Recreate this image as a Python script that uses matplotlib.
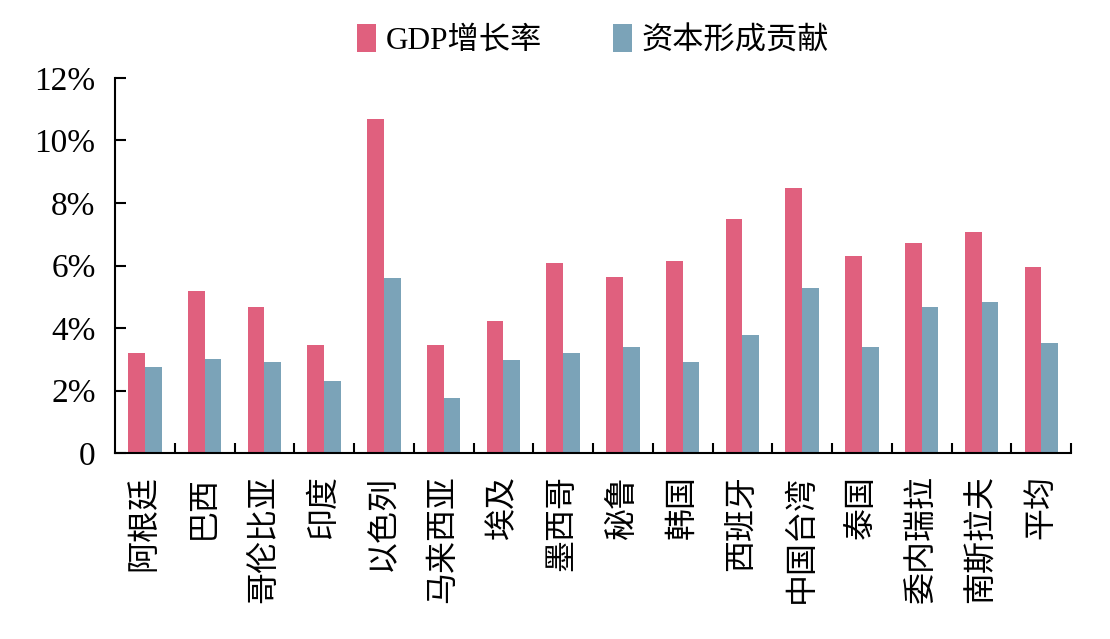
import matplotlib
matplotlib.use('Agg')
import matplotlib.pyplot as plt
import numpy as np
from matplotlib.ticker import FuncFormatter, FixedLocator

plt.rcParams['font.family'] = ['Liberation Serif', 'Noto Sans CJK SC', 'DejaVu Sans']

countries = ['阿根廷', '巴西', '哥伦比亚', '印度', '以色列', '马来西亚', '埃及', '墨西哥',
             '秘鲁', '韩国', '西班牙', '中国台湾', '泰国', '委内瑞拉', '南斯拉夫', '平均']
gdp_growth = [3.2, 5.2, 4.68, 3.45, 10.7, 3.45, 4.22, 6.08,
              5.63, 6.14, 7.49, 8.48, 6.3, 6.72, 7.07, 5.95]
capital_contrib = [2.75, 3.0, 2.9, 2.3, 5.6, 1.77, 2.98, 3.2,
                   3.39, 2.9, 3.78, 5.28, 3.39, 4.67, 4.83, 3.52]

pink = '#E0607E'
blue = '#7BA3B8'

fig = plt.figure(figsize=(11.1, 6.39), dpi=100)
ax = fig.add_axes([0.1036, 0.291, 0.8614, 0.587])

x = np.arange(len(countries))
w = 0.28
ax.bar(x - w / 2, gdp_growth, width=w, color=pink, label='GDP增长率')
ax.bar(x + w / 2, capital_contrib, width=w, color=blue, label='资本形成贡献')

ax.set_xlim(-0.5, len(countries) - 0.5)
ax.set_ylim(0, 12)

ax.spines['top'].set_visible(False)
ax.spines['right'].set_visible(False)
ax.spines['left'].set_linewidth(1.5)
ax.spines['bottom'].set_linewidth(1.5)

ax.set_yticks(range(0, 13, 2))
ax.yaxis.set_major_formatter(FuncFormatter(lambda v, p: '0' if v == 0 else '%d%%' % v))
ax.tick_params(axis='y', direction='in', length=8, width=1.5, labelsize=24, pad=14)

# category labels at bar centres, tick marks at category boundaries
ax.xaxis.set_major_locator(FixedLocator(x))
ax.set_xticklabels(countries, rotation=90, fontsize=23, va='top')
ax.tick_params(axis='x', which='major', length=0, pad=16)
ax.xaxis.set_minor_locator(FixedLocator(np.arange(0.5, len(countries), 1)))
ax.tick_params(axis='x', which='minor', direction='in', length=7, width=1.5)

ax.legend(loc='lower center', bbox_to_anchor=(0.5, 1.0), ncol=2, frameon=False,
          fontsize=22.5, handlelength=0.6, handleheight=1.0, handletextpad=0.3,
          columnspacing=2.3, borderaxespad=0.3)

fig.savefig('out.png', dpi=100)
